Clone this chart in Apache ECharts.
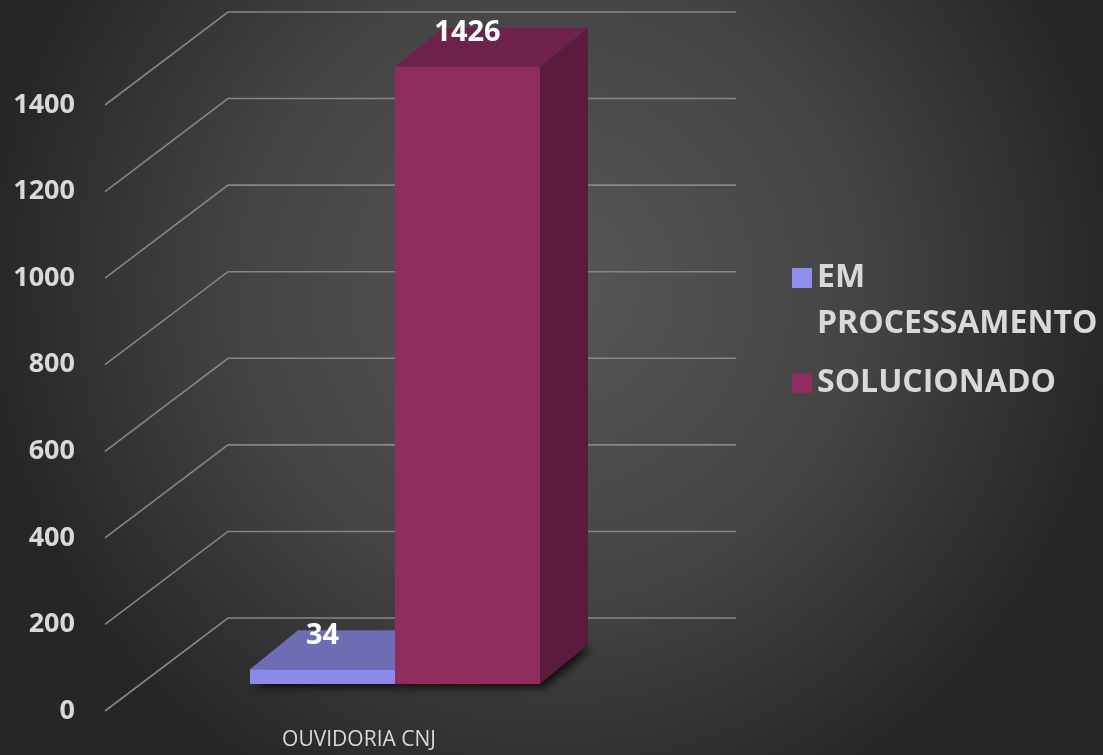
<!DOCTYPE html>
<html>
<head>
<meta charset="utf-8">
<script src="https://cdn.jsdelivr.net/npm/echarts@6/dist/echarts.min.js"></script>
<style>
  html, body { margin: 0; padding: 0; }
  #chart { width: 1103px; height: 755px; }
</style>
</head>
<body>
<div id="chart"></div>
<script>
const categories = ["OUVIDORIA CNJ"];
const seriesNames = ["EM\nPROCESSAMENTO", "SOLUCIONADO"];
const emProcessamento = [34];
const solucionado = [1426];
const yTicks = [0, 200, 400, 600, 800, 1000, 1200, 1400];

// cores das faces: frente, topo, lado
const faces = [
  { front: "#8b8aeb", top: "#6d6cb4", side: "#55548f" },
  { front: "#8e2d5e", top: "#6e2249", side: "#5a1b3c" }
];
const wallDepth = [123, -93]; // deslocamento da parede de fundo
const barStart = [36, -27];   // face da frente da barra
const barDepth = [48, -39];   // profundidade da barra
const barRatio = 0.2854;

const labelFont = "'Open Sans', 'Noto Sans', sans-serif";

function gridLines(params, api) {
  const cs = params.coordSys;
  const y = api.coord([0, api.value(0)])[1];
  const x0 = cs.x;
  return {
    type: "polyline",
    shape: {
      points: [
        [x0, y],
        [x0 + wallDepth[0], y + wallDepth[1]],
        [x0 + cs.width + wallDepth[0], y + wallDepth[1]]
      ]
    },
    style: { stroke: "#868686", lineWidth: 1.6, fill: null },
    silent: true
  };
}

function bar3d(idx) {
  return function (params, api) {
    const band = api.size([1, 0])[0];
    const w = band * barRatio;
    const c = api.coord([api.value(0), api.value(1)]);
    const b = api.coord([api.value(0), 0]);
    const xl = c[0] - w + idx * w + barStart[0];
    const xr = xl + w;
    const yt = c[1] + barStart[1];
    const yb = b[1] + barStart[1];
    const dx = barDepth[0], dy = barDepth[1];
    const f = faces[idx];
    const children = [];
    // sombra no chao
    children.push({
      type: "polygon",
      shape: { points: [[xl, yb], [xr, yb], [xr + dx, yb + dy], [xl + dx, yb + dy]] },
      style: { fill: "rgba(0,0,0,0.9)", shadowBlur: 10, shadowColor: "rgba(0,0,0,0.9)", shadowOffsetX: 4, shadowOffsetY: 3 },
      z2: 0
    });
    children.push({
      type: "polygon",
      shape: { points: [[xr, yt], [xr + dx, yt + dy], [xr + dx, yb + dy], [xr, yb]] },
      style: { fill: f.side },
      z2: 1
    });
    children.push({
      type: "polygon",
      shape: { points: [[xl, yt], [xr, yt], [xr + dx, yt + dy], [xl + dx, yt + dy]] },
      style: { fill: f.top },
      z2: 1
    });
    children.push({
      type: "rect",
      shape: { x: xl, y: yt, width: w, height: yb - yt },
      style: { fill: f.front },
      z2: 2
    });
    children.push({
      type: "text",
      style: {
        x: xl + w / 2,
        y: yt - 34,
        text: String(api.value(1)),
        fill: "#ffffff",
        font: "bold 29px " + labelFont,
        align: "center",
        verticalAlign: "middle"
      },
      z2: 5
    });
    return { type: "group", children: children };
  };
}

const chart = echarts.init(document.getElementById("chart"));
const option = {
  backgroundColor: {
    type: "radial",
    x: 0.5, y: 0.38, r: 0.75,
    colorStops: [
      { offset: 0, color: "#575757" },
      { offset: 0.55, color: "#444444" },
      { offset: 1, color: "#262626" }
    ]
  },
  animation: false,
  grid: { left: 105, right: 490, top: 105, bottom: 44 },
  xAxis: {
    type: "category",
    data: categories,
    axisLine: { show: false },
    axisTick: { show: false },
    axisLabel: {
      color: "#d9d9d9",
      fontFamily: labelFont,
      fontSize: 21,
      margin: 19
    }
  },
  yAxis: {
    type: "value",
    min: 0,
    max: 1400,
    interval: 200,
    axisLine: { show: false },
    axisTick: { show: false },
    splitLine: { show: false },
    axisLabel: {
      color: "#d9d9d9",
      fontFamily: labelFont,
      fontWeight: "bold",
      fontSize: 27,
      margin: 30,
      formatter: function (v) { return String(v); }
    }
  },
  legend: {
    orient: "vertical",
    left: 787,
    top: 204,
    itemWidth: 20,
    itemHeight: 20,
    itemGap: 13,
    icon: "rect",
    formatter: function (name) {
      return name.indexOf("\n") >= 0 ? "\n" + name : name;
    },
    textStyle: {
      color: "#d9d9d9",
      fontFamily: labelFont,
      fontWeight: "bold",
      fontSize: 32,
      lineHeight: 46
    },
    data: [
      { name: seriesNames[0], itemStyle: { color: "#8f8eef" } },
      { name: seriesNames[1], itemStyle: { color: "#8e2d5e" } }
    ]
  },
  series: [
    {
      type: "custom",
      name: "grade",
      renderItem: gridLines,
      data: yTicks.map(function (v) { return [v]; }),
      encode: { y: 0 },
      clip: false,
      silent: true,
      z: 1
    },
    {
      type: "custom",
      name: seriesNames[0],
      renderItem: bar3d(0),
      data: emProcessamento.map(function (v, i) { return [i, v]; }),
      encode: { x: 0, y: 1 },
      itemStyle: { color: "#8f8eef" },
      clip: false,
      z: 3
    },
    {
      type: "custom",
      name: seriesNames[1],
      renderItem: bar3d(1),
      data: solucionado.map(function (v, i) { return [i, v]; }),
      encode: { x: 0, y: 1 },
      itemStyle: { color: "#8e2d5e" },
      clip: false,
      z: 4
    }
  ]
};
chart.setOption(option);
</script>
</body>
</html>
